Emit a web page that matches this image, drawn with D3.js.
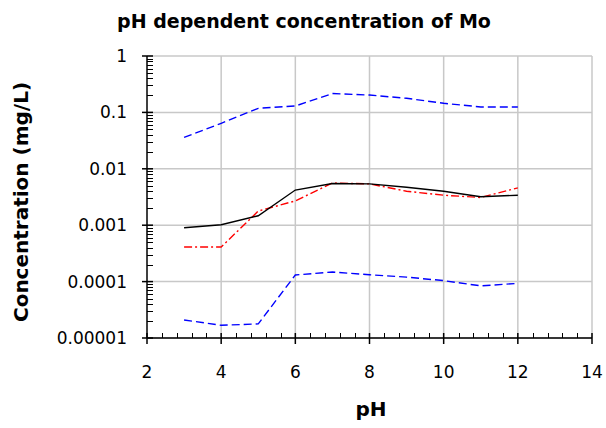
<!DOCTYPE html>
<html><head><meta charset="utf-8">
<script src="https://cdn.jsdelivr.net/npm/d3@7"></script>
<style>body{margin:0;background:#fff}svg{display:block}text{font-family:"DejaVu Sans",Verdana,sans-serif}</style>
</head><body><svg id="c" width="606" height="428"></svg>
<script>
const pH = [3,4,5,6,7,8,9,10,11,12];
const upperBlue = [0.036,0.064,0.118,0.13,0.216,0.203,0.178,0.145,0.125,0.125];
const blackSolid = [0.0009,0.00102,0.00147,0.0042,0.0055,0.0054,0.0047,0.004,0.0032,0.0034];
const redDashDot = [0.00041,0.00041,0.00178,0.0027,0.0056,0.0054,0.004,0.0034,0.0031,0.0046];
const lowerBlue = [0.0000209,0.0000168,0.0000178,0.000131,0.000148,0.000132,0.00012,0.000104,0.000084,0.000093];
const xTicks = [2,4,6,8,10,12,14];
const yTicks = [1,0.1,0.01,0.001,0.0001,0.00001];
const yTickLabels = ["1","0.1","0.01","0.001","0.0001","0.00001"];

const svg = d3.select("#c");
const L=147, R=592, T=56, B=338;
const x = d3.scaleLinear().domain([2,14]).range([L,R]);
const y = d3.scaleLog().domain([0.00001,1]).range([B,T]);

// grid
const g = svg.append("g");
g.selectAll("line.vx").data(xTicks.slice(1)).join("line")
  .attr("x1",d=>x(d)).attr("x2",d=>x(d)).attr("y1",T).attr("y2",B)
  .attr("stroke","#c8c8c8").attr("stroke-width",1.5);
g.selectAll("line.hy").data(yTicks).join("line")
  .attr("x1",L).attr("x2",R).attr("y1",d=>y(d)).attr("y2",d=>y(d))
  .attr("stroke","#c8c8c8").attr("stroke-width",1.5);

// minor ticks
const minorY = [];
for (let e=-5;e<0;e++) for (let m=2;m<=9;m++) minorY.push(m*Math.pow(10,e));
const minorX = [];
for (let v=2; v<14; v+=2) for (let k=1;k<=4;k++) minorX.push(v+k*0.4);

const ax = svg.append("g").attr("stroke","#000").attr("stroke-width",1);
ax.selectAll("line.my").data(minorY).join("line")
  .attr("x1",L).attr("x2",L+6).attr("y1",d=>Math.round(y(d))+0.5).attr("y2",d=>Math.round(y(d))+0.5);
ax.selectAll("line.My").data(yTicks).join("line")
  .attr("x1",L-5).attr("x2",L+6).attr("y1",d=>y(d)).attr("y2",d=>y(d)).attr("stroke-width",1.5);
ax.selectAll("line.mx").data(minorX).join("line")
  .attr("x1",d=>Math.round(x(d))+0.5).attr("x2",d=>Math.round(x(d))+0.5).attr("y1",B-5).attr("y2",B);
ax.selectAll("line.Mx").data(xTicks).join("line")
  .attr("x1",d=>x(d)).attr("x2",d=>x(d)).attr("y1",B-5).attr("y2",B+6).attr("stroke-width",1.5);
ax.append("line").attr("x1",L).attr("x2",L).attr("y1",T).attr("y2",B).attr("stroke-width",1.5);
ax.append("line").attr("x1",L).attr("x2",R).attr("y1",B).attr("y2",B).attr("stroke-width",1.5);

// tick labels
svg.selectAll("text.yt").data(yTicks).join("text")
  .attr("x",L-20).attr("y",d=>y(d)).attr("dy","0.35em").attr("text-anchor","end")
  .attr("font-size",17).attr("fill","#000").text((d,i)=>yTickLabels[i]);
svg.selectAll("text.xt").data(xTicks).join("text")
  .attr("x",d=>x(d)).attr("y",B+40).attr("text-anchor","middle")
  .attr("font-size",17).attr("fill","#000").text(d=>d);

// lines
const line = d3.line().x((d,i)=>x(pH[i])).y(d=>y(d));
const series = [
  {v:upperBlue, c:"#0000ff", dash:"8,4", w:1.4},
  {v:lowerBlue, c:"#0000ff", dash:"8,4", w:1.4},
  {v:redDashDot, c:"#ff0000", dash:"8,3,2,3", w:1.4},
  {v:blackSolid, c:"#000000", dash:null, w:1.4}
];
series.forEach(s=>{
  svg.append("path").attr("d",line(s.v)).attr("fill","none").attr("stroke",s.c)
    .attr("stroke-width",s.w).attr("stroke-dasharray",s.dash);
});

// titles
svg.append("text").attr("x",304).attr("y",28).attr("text-anchor","middle")
  .attr("font-size",19).attr("font-weight","bold").text("pH dependent concentration of Mo");
svg.append("text").attr("x",371).attr("y",416).attr("text-anchor","middle")
  .attr("font-size",20).attr("font-weight","bold").text("pH");
svg.append("text").attr("transform","translate(28,202) rotate(-90)").attr("text-anchor","middle")
  .attr("font-size",20).attr("font-weight","bold").text("Concentration (mg/L)");
</script></body></html>
